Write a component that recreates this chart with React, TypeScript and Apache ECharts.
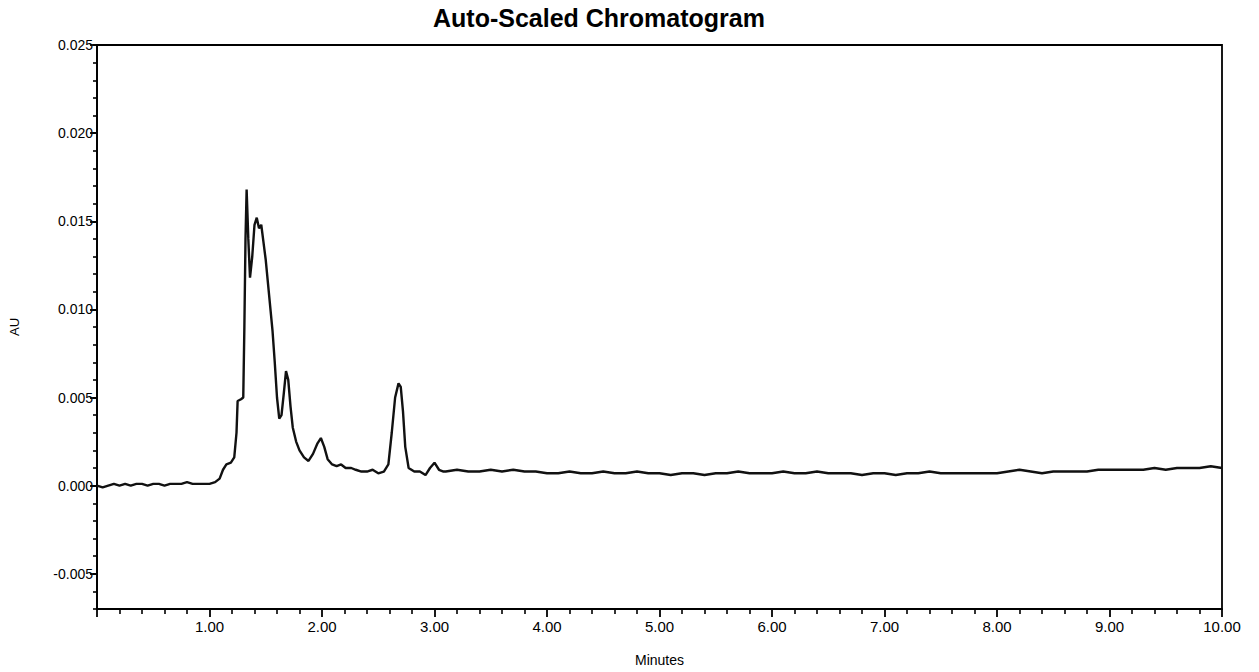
import React, { useEffect, useRef } from "react";
import * as echarts from "echarts";

const TITLE = "Auto-Scaled Chromatogram";
const X_NAME = "Minutes";
const Y_NAME = "AU";

const yMajorTicks = [-0.005, 0, 0.005, 0.01, 0.015, 0.02, 0.025];

const times = [
  0.0, 0.05, 0.1, 0.15, 0.2, 0.25, 0.3, 0.35, 0.4, 0.45, 0.5, 0.55, 0.6, 0.65, 0.7, 0.75, 0.8, 0.85, 0.9, 0.95, 1.0, 1.05,
  1.09, 1.12, 1.15, 1.19, 1.22, 1.24, 1.25, 1.28, 1.3, 1.31, 1.32, 1.33, 1.345, 1.36, 1.38, 1.4, 1.42, 1.44, 1.46, 1.48,
  1.5, 1.53, 1.56, 1.58, 1.6, 1.62, 1.64, 1.66, 1.68, 1.7, 1.72, 1.74, 1.77, 1.8, 1.84, 1.88, 1.92, 1.96, 1.99, 2.02,
  2.05, 2.09, 2.13, 2.17, 2.21, 2.26, 2.3, 2.35, 2.4, 2.45, 2.5, 2.55, 2.59, 2.62, 2.65, 2.68, 2.7, 2.72, 2.74, 2.77,
  2.82, 2.87, 2.92, 2.96, 3.0, 3.04, 3.08,
  3.1, 3.2, 3.3, 3.4, 3.5, 3.6, 3.7, 3.8, 3.9, 4.0, 4.1, 4.2, 4.3, 4.4, 4.5, 4.6, 4.7, 4.8, 4.9, 5.0, 5.1, 5.2, 5.3, 5.4,
  5.5, 5.6, 5.7, 5.8, 5.9, 6.0, 6.1, 6.2, 6.3, 6.4, 6.5, 6.6, 6.7, 6.8, 6.9, 7.0, 7.1, 7.2, 7.3, 7.4, 7.5, 7.6, 7.7, 7.8,
  7.9, 8.0, 8.1, 8.2, 8.3, 8.4, 8.5, 8.6, 8.7, 8.8, 8.9, 9.0, 9.1, 9.2, 9.3, 9.4, 9.5, 9.6, 9.7, 9.8, 9.9, 10.0,
];

const au = [
  0.0, -0.0001, 0.0, 0.0001, 0.0, 0.0001, 0.0, 0.0001, 0.0001, 0.0, 0.0001, 0.0001, 0.0, 0.0001, 0.0001, 0.0001, 0.0002, 0.0001, 0.0001, 0.0001, 0.0001, 0.0002,
  0.0004, 0.0009, 0.0012, 0.0013, 0.0016, 0.003, 0.0048, 0.0049, 0.005, 0.009, 0.014, 0.0168, 0.014, 0.0118, 0.013, 0.0148, 0.0152, 0.0146, 0.0148, 0.0138,
  0.0128, 0.0108, 0.0088, 0.007, 0.005, 0.0038, 0.004, 0.0052, 0.0065, 0.006, 0.0045, 0.0033, 0.0025, 0.002, 0.0016, 0.0014, 0.0018, 0.0024, 0.0027, 0.0022,
  0.0015, 0.0012, 0.0011, 0.0012, 0.001, 0.001, 0.0009, 0.0008, 0.0008, 0.0009, 0.0007, 0.0008, 0.0012, 0.003, 0.005, 0.0058, 0.0056, 0.0042, 0.0022, 0.001,
  0.0008, 0.0008, 0.0006, 0.001, 0.0013, 0.0009, 0.0008,
  0.0008, 0.0009, 0.0008, 0.0008, 0.0009, 0.0008, 0.0009, 0.0008, 0.0008, 0.0007, 0.0007, 0.0008, 0.0007, 0.0007, 0.0008, 0.0007, 0.0007, 0.0008, 0.0007, 0.0007, 0.0006, 0.0007, 0.0007, 0.0006,
  0.0007, 0.0007, 0.0008, 0.0007, 0.0007, 0.0007, 0.0008, 0.0007, 0.0007, 0.0008, 0.0007, 0.0007, 0.0007, 0.0006, 0.0007, 0.0007, 0.0006, 0.0007, 0.0007, 0.0008, 0.0007, 0.0007, 0.0007, 0.0007,
  0.0007, 0.0007, 0.0008, 0.0009, 0.0008, 0.0007, 0.0008, 0.0008, 0.0008, 0.0008, 0.0009, 0.0009, 0.0009, 0.0009, 0.0009, 0.001, 0.0009, 0.001, 0.001, 0.001, 0.0011, 0.001,
];

const FONT = "Liberation Sans, Arial, sans-serif";

export default function App() {
  const ref = useRef<HTMLDivElement>(null);
  useEffect(() => {
    if (!ref.current) return;
    const chart = echarts.init(ref.current, undefined, { renderer: "svg" });
    const data = times.map((t, i) => [t, au[i]]);
    const axisLine = { show: true, onZero: false, lineStyle: { color: "#000", width: 1.8 } };
    chart.setOption({
      animation: false,
      backgroundColor: "#fff",
      title: {
        text: TITLE,
        left: 428,
        top: 0,
        textStyle: { fontFamily: FONT, fontSize: 25, fontWeight: "bold", color: "#000" },
      },
      grid: {
        left: 95,
        right: 37,
        top: 45,
        bottom: 55,
        show: true,
        borderColor: "#000",
        borderWidth: 1.8,
        backgroundColor: "#fff",
      },
      xAxis: [
        {
          type: "value",
          min: 0,
          max: 10,
          interval: 1,
          name: X_NAME,
          nameLocation: "middle",
          nameGap: 44,
          nameTextStyle: { fontFamily: FONT, fontSize: 14, color: "#000", letterSpacing: -0.5 },
          axisLine,
          axisTick: { show: true, length: 8, inside: false, lineStyle: { color: "#000", width: 1.8 } },
          minorTick: { show: true, splitNumber: 5, length: 5, lineStyle: { color: "#000", width: 1.6 } },
          axisLabel: {
            fontFamily: FONT,
            fontSize: 15,
            color: "#000",
            margin: 10,
            formatter: (v: number) => (v === 0 ? "" : v.toFixed(2)),
          },
          splitLine: { show: false },
        },
      ],
      yAxis: [
        {
          type: "value",
          min: -0.007,
          max: 0.025,
          name: Y_NAME,
          nameLocation: "middle",
          nameGap: 76,
          nameTextStyle: { fontFamily: FONT, fontSize: 13, color: "#000" },
          axisLine,
          axisTick: {
            show: true,
            length: 7,
            customValues: yMajorTicks,
            lineStyle: { color: "#000", width: 1.8 },
          },
          axisLabel: {
            fontFamily: FONT,
            fontSize: 14,
            color: "#000",
            margin: 4,
            customValues: yMajorTicks,
            formatter: (v: number) => (Math.abs(v) < 1e-9 ? "0.000" : v.toFixed(3)),
          },
          splitLine: { show: false },
        },
        {
          type: "value",
          min: -0.007,
          max: 0.025,
          interval: 0.001,
          position: "left",
          axisLine: { show: false },
          axisTick: { show: true, length: 4, lineStyle: { color: "#000", width: 1.6 } },
          axisLabel: { show: false },
          splitLine: { show: false },
        },
      ],
      series: [
        {
          type: "line",
          xAxisIndex: 0,
          yAxisIndex: 0,
          data,
          showSymbol: false,
          symbol: "none",
          lineStyle: { color: "#111", width: 2.4 },
          z: 5,
        },
      ],
    });
    return () => chart.dispose();
  }, []);
  return (
    <div
      ref={ref}
      style={{ position: "fixed", left: 0, top: 0, width: 1259, height: 672, background: "#fff" }}
    />
  );
}
